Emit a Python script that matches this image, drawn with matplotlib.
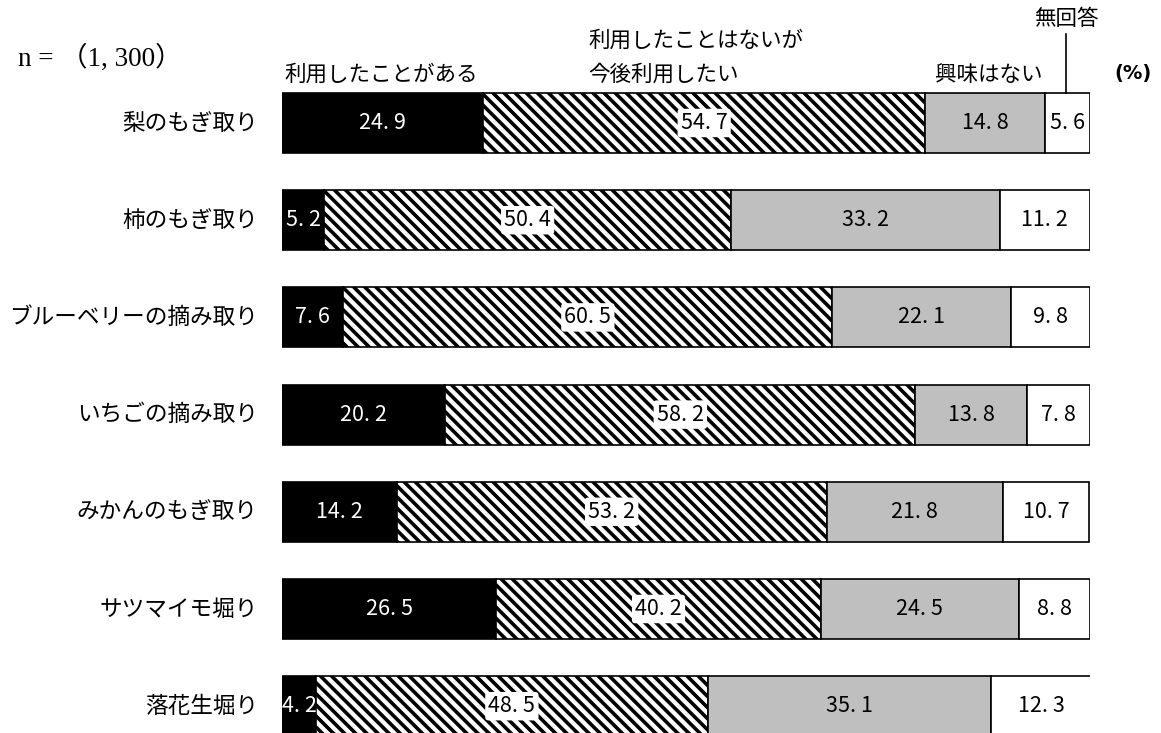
import matplotlib
matplotlib.use("Agg")
import matplotlib.pyplot as plt
import numpy as np

plt.rcParams['font.family'] = ['Noto Sans CJK JP', 'DejaVu Sans']
plt.rcParams['hatch.linewidth'] = 2.6

categories = ["梨のもぎ取り", "柿のもぎ取り", "ブルーベリーの摘み取り", "いちごの摘み取り",
              "みかんのもぎ取り", "サツマイモ堀り", "落花生堀り"]
used = [24.9, 5.2, 7.6, 20.2, 14.2, 26.5, 4.2]
want = [54.7, 50.4, 60.5, 58.2, 53.2, 40.2, 48.5]
no_interest = [14.8, 33.2, 22.1, 13.8, 21.8, 24.5, 35.1]
no_answer = [5.6, 11.2, 9.8, 7.8, 10.7, 8.8, 12.3]

series = [used, want, no_interest, no_answer]
W, H = 1161, 733
fig = plt.figure(figsize=(W / 100, H / 100), dpi=100)
fig.patch.set_facecolor("white")

# axes spans the full height; rows are spaced 97.2 px apart, first centre at 123 px
row_px, first_px = 97.2, 123.0
ax = fig.add_axes([282 / W, 0, 808 / W, 1])
ax.set_xlim(0, 100)
ax.set_ylim((H - first_px) / row_px, -first_px / row_px)
ax.axis("off")

bar_h = 60 / row_px
y = np.arange(len(categories))
styles = [
    dict(color="black", edgecolor="black"),
    dict(color="white", edgecolor="black", hatch="\\\\\\"),
    dict(color="#bfbfbf", edgecolor="black"),
    dict(color="white", edgecolor="black"),
]
num_font = dict(family=["Noto Sans CJK JP", "DejaVu Sans"], fontsize=15.5)

left = np.zeros(len(categories))
for k, (vals, st) in enumerate(zip(series, styles)):
    vals = np.array(vals)
    ax.barh(y, vals, left=left, height=bar_h, linewidth=1.2, **st)
    for i, v in enumerate(vals):
        cx = left[i] + v / 2
        txt = f"{v:.1f}".replace(".", ". ")
        if k == 0:
            ax.text(cx, y[i], txt, ha="center", va="center", color="white", **num_font)
        elif k == 1:
            ax.text(cx, y[i], txt, ha="center", va="center", color="black",
                    bbox=dict(boxstyle="round,pad=0.15", fc="white", ec="none"), **num_font)
        else:
            ax.text(cx, y[i], txt, ha="center", va="center", color="black", **num_font)
    left += vals

for i, c in enumerate(categories):
    ax.text(-3.0, y[i], c, ha="right", va="center", fontsize=16.3, clip_on=False)


def fx(px):
    return px / W


def fy(py):
    return 1 - py / H


fs = 15.5
fig.text(fx(18), fy(58), "n = （1, 300）", ha="left", va="center", fontsize=19.5,
         family=["Liberation Serif", "Noto Sans CJK JP"])
fig.text(fx(284), fy(75), "利用したことがある", ha="left", va="center", fontsize=fs)
fig.text(fx(588), fy(41), "利用したことはないが", ha="left", va="center", fontsize=fs)
fig.text(fx(588), fy(75), "今後利用したい", ha="left", va="center", fontsize=fs)
fig.text(fx(1042), fy(75), "興味はない", ha="right", va="center", fontsize=fs)
fig.text(fx(1066), fy(19), "無回答", ha="center", va="center", fontsize=fs)
fig.text(fx(1133), fy(74), "(%)", ha="center", va="center", fontsize=14,
         fontweight="bold", family=["DejaVu Sans"])
fig.add_artist(plt.Line2D([fx(1066), fx(1066)], [fy(34), fy(93)], color="black",
                          linewidth=1.2))

fig.savefig("out.png", dpi=100, facecolor="white")
